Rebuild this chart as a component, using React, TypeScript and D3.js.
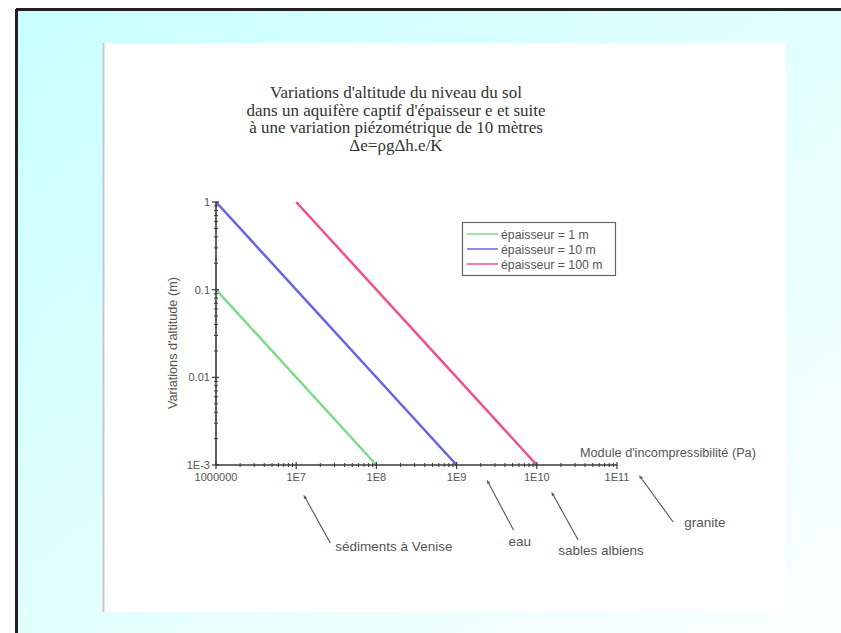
import React from "react";
import * as d3 from "d3";

// ---- data ----
const seriesLabels = ["épaisseur = 1 m", "épaisseur = 10 m", "épaisseur = 100 m"];
const seriesColors = ["#7ddc8c", "#6464e6", "#f0508c"];
const seriesK = [
  [1e6, 1e8],
  [1e6, 1e9],
  [1e7, 1e10],
];
const seriesDe = [
  [0.1, 0.001],
  [1, 0.001],
  [1, 0.001],
];
const xTickValues = [1e6, 1e7, 1e8, 1e9, 1e10, 1e11];
const xTickLabels = ["1000000", "1E7", "1E8", "1E9", "1E10", "1E11"];
const yTickValues = [1e-3, 1e-2, 1e-1, 1];
const yTickLabels = ["1E-3", "0.01", "0.1", "1"];
const titleLines = [
  "Variations d'altitude du niveau du sol",
  "dans un aquifère captif d'épaisseur e et suite",
  "à une variation piézométrique de 10 mètres",
  "Δe=ρgΔh.e/K",
];
const materialNames = ["sédiments à Venise", "eau", "sables albiens", "granite"];
const materialK = [1.3e7, 2.5e9, 1.6e10, 2.0e11];

// layout (not data)
const annLayout = [
  { ty: 498, dx: 25, ey: 543, lx: 30, ly: 551 },
  { ty: 483, dx: 25, ey: 530, lx: 20, ly: 546 },
  { ty: 495, dx: 25, ey: 540, lx: 5, ly: 555 },
  { ty: 478, dx: 32, ey: 522, lx: 43, ly: 527 },
];

const W = 841;
const H = 633;

export default function App() {
  const x = d3.scaleLog().domain([1e6, 1e11]).range([216, 617]);
  const y = d3.scaleLog().domain([1e-3, 1]).range([465, 202]);
  const line = d3
    .line<[number, number]>()
    .x((d) => x(d[0]))
    .y((d) => y(d[1]));

  const minorX: number[] = [];
  for (let e = 6; e < 11; e++) for (let m = 2; m <= 9; m++) minorX.push(m * Math.pow(10, e));
  const minorY: number[] = [];
  for (let e = -3; e < 0; e++) for (let m = 2; m <= 9; m++) minorY.push(m * Math.pow(10, e));

  const axisColor = "#3a3a3a";
  const textColor = "#555";
  const sans = "'Liberation Sans', Arial, sans-serif";

  return (
    <svg
      width={W}
      height={H}
      style={{ position: "fixed", left: 0, top: 0, display: "block" }}
    >
      <defs>
        <linearGradient id="bg" x1="0" y1="0" x2="1" y2="1">
          <stop offset="0%" stopColor="#c8ffff" />
          <stop offset="100%" stopColor="#fbffff" />
        </linearGradient>
        <marker id="arr" viewBox="0 0 6 6" refX="1" refY="3" markerWidth="4" markerHeight="4" orient="auto-start-reverse">
          <path d="M0,0.5 L6,3 L0,5.5 z" fill="#666" />
        </marker>
      </defs>
      <rect x={0} y={0} width={W} height={H} fill="#fff" />
      <rect x={16} y={9} width={W - 16} height={H - 9} fill="url(#bg)" />
      <line x1={16} y1={9.5} x2={W} y2={9.5} stroke="#222" strokeWidth={3} />
      <line x1={16.5} y1={9} x2={16.5} y2={H} stroke="#222" strokeWidth={3} />
      {/* white panel */}
      <rect x={103} y={43} width={683} height={569} fill="#ffffff" />
      <line x1={103.5} y1={43} x2={103.5} y2={612} stroke="#c8c8c8" strokeWidth={2} />

      {/* title */}
      <g fontFamily="'Liberation Serif', 'Times New Roman', serif" fontSize={17} fill="#333" textAnchor="middle">
        {titleLines.map((t, i) => (
          <text key={i} x={396} y={98 + i * 17.7}>
            {t}
          </text>
        ))}
      </g>

      {/* series */}
      {seriesK.map((ks, i) => (
        <path
          key={i}
          d={line(ks.map((k, j) => [k, seriesDe[i][j]] as [number, number])) || ""}
          stroke={seriesColors[i]}
          strokeWidth={2.5}
          fill="none"
        />
      ))}

      {/* axes */}
      <line x1={x(1e6)} y1={y(1e-3)} x2={x(1e11)} y2={y(1e-3)} stroke={axisColor} strokeWidth={1.6} />
      <line x1={x(1e6)} y1={y(1e-3)} x2={x(1e6)} y2={y(1)} stroke={axisColor} strokeWidth={1.6} />
      {minorX.map((v, i) => (
        <line key={"mx" + i} x1={x(v)} x2={x(v)} y1={y(1e-3) - 2} y2={y(1e-3) + 2} stroke={axisColor} strokeWidth={1} />
      ))}
      {xTickValues.map((v, i) => (
        <g key={"tx" + i}>
          <line x1={x(v)} x2={x(v)} y1={y(1e-3) - 3} y2={y(1e-3) + 4} stroke={axisColor} strokeWidth={1.2} />
          <text x={x(v)} y={480.5} fontFamily={sans} fontSize={11} fill={textColor} textAnchor="middle">
            {xTickLabels[i]}
          </text>
        </g>
      ))}
      {minorY.map((v, i) => (
        <line key={"my" + i} x1={x(1e6) - 2} x2={x(1e6) + 2} y1={y(v)} y2={y(v)} stroke={axisColor} strokeWidth={1} />
      ))}
      {yTickValues.map((v, i) => (
        <g key={"ty" + i}>
          <line x1={x(1e6) - 4} x2={x(1e6) + 3} y1={y(v)} y2={y(v)} stroke={axisColor} strokeWidth={1.2} />
          <text x={x(1e6) - 6} y={y(v) + 4} fontFamily={sans} fontSize={11} fill={textColor} textAnchor="end">
            {yTickLabels[i]}
          </text>
        </g>
      ))}
      <text x={580} y={457} fontFamily={sans} fontSize={12.7} fill={textColor}>
        Module d'incompressibilité (Pa)
      </text>
      <text
        transform="translate(177,343) rotate(-90)"
        fontFamily={sans}
        fontSize={12.7}
        fill={textColor}
        textAnchor="middle"
      >
        Variations d'altitude (m)
      </text>

      {/* legend */}
      <rect x={462.5} y={222.5} width={153} height={53} fill="#fff" stroke="#666" strokeWidth={1.2} />
      {seriesLabels.map((s, i) => (
        <g key={"lg" + i}>
          <line x1={467} x2={498} y1={234 + i * 15} y2={234 + i * 15} stroke={seriesColors[i]} strokeWidth={1.5} />
          <text x={501} y={238.5 + i * 15} fontFamily={sans} fontSize={12.3} fill={textColor}>
            {s}
          </text>
        </g>
      ))}

      {/* annotations */}
      {materialNames.map((n, i) => {
        const a = annLayout[i];
        const tx = x(materialK[i]);
        return (
          <g key={"an" + i}>
            <line x1={tx + a.dx} y1={a.ey} x2={tx} y2={a.ty} stroke="#555" strokeWidth={1.1} markerEnd="url(#arr)" />
            <text x={tx + a.lx} y={a.ly} fontFamily={sans} fontSize={13.5} fill={textColor}>
              {n}
            </text>
          </g>
        );
      })}
    </svg>
  );
}
